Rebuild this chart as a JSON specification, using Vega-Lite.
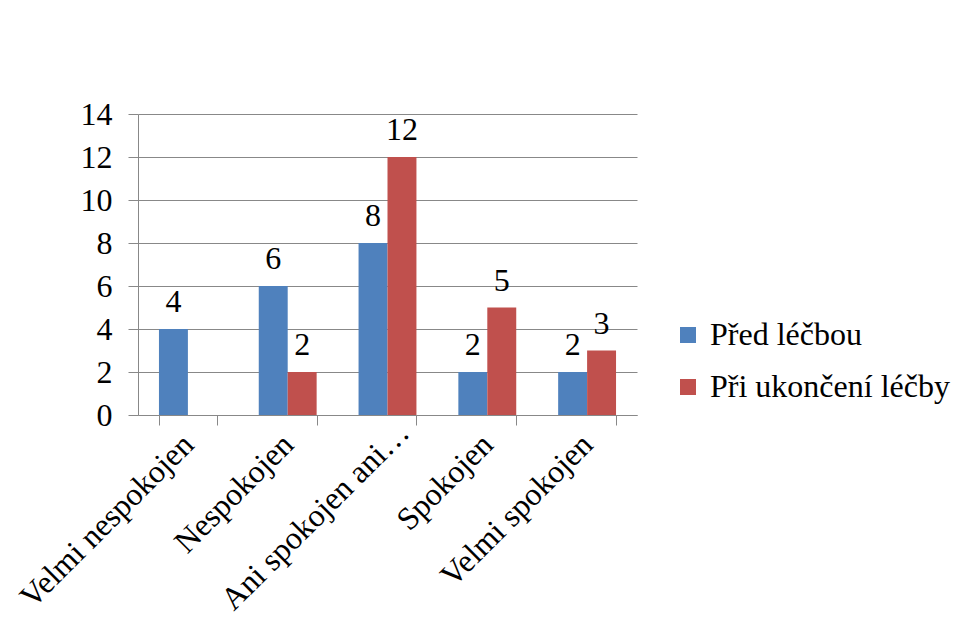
{
  "$schema": "https://vega.github.io/schema/vega-lite/v6.json",
  "width": 499,
  "height": 301,
  "autosize": "none",
  "padding": {"left": 138, "top": 114, "right": 320, "bottom": 222},
  "background": "white",
  "config": {
    "font": "'Times New Roman', 'Liberation Serif', 'DejaVu Serif', serif",
    "view": {"stroke": null},
    "axis": {"labelFont": "'Times New Roman', 'Liberation Serif', 'DejaVu Serif', serif", "labelColor": "black"},
    "legend": {"labelFont": "'Times New Roman', 'Liberation Serif', 'DejaVu Serif', serif", "labelColor": "black"}
  },
  "data": {
    "values": [
      {"cat": "Velmi nespokojen", "series": "Před léčbou", "value": 4},
      {"cat": "Nespokojen", "series": "Před léčbou", "value": 6},
      {"cat": "Nespokojen", "series": "Při ukončení léčby", "value": 2},
      {"cat": "Ani spokojen ani nespokojen", "series": "Před léčbou", "value": 8},
      {"cat": "Ani spokojen ani nespokojen", "series": "Při ukončení léčby", "value": 12},
      {"cat": "Spokojen", "series": "Před léčbou", "value": 2},
      {"cat": "Spokojen", "series": "Při ukončení léčby", "value": 5},
      {"cat": "Velmi spokojen", "series": "Před léčbou", "value": 2},
      {"cat": "Velmi spokojen", "series": "Při ukončení léčby", "value": 3}
    ]
  },
  "encoding": {
    "x": {
      "field": "cat",
      "type": "nominal",
      "sort": null,
      "title": null,
      "scale": {"paddingInner": 0.42, "paddingOuter": 0.21},
      "axis": {
        "labelAngle": -45,
        "labelAlign": "right",
        "labelBaseline": "middle",
        "labelFontSize": 32,
        "labelLimit": 400,
        "labelPadding": {"condition": {"test": "datum.value == 'Ani spokojen ani nespokojen'", "value": 2}, "value": 14},
        "labelOffset": {"condition": {"test": "datum.value == 'Ani spokojen ani nespokojen'", "value": 16}, "value": 0},
        "tickBand": "extent",
        "tickSize": 10,
        "tickColor": "#888888",
        "domainColor": "#888888",
        "labelExpr": "datum.label == 'Ani spokojen ani nespokojen' ? 'Ani spokojen ani…' : datum.label"
      }
    },
    "xOffset": {"field": "series", "type": "nominal", "sort": ["Před léčbou", "Při ukončení léčby"]},
    "y": {
      "field": "value",
      "type": "quantitative",
      "title": null,
      "scale": {"domain": [0, 14]},
      "axis": {
        "values": [0, 2, 4, 6, 8, 10, 12, 14],
        "labelFontSize": 32,
        "labelPadding": 16,
        "tickSize": 10,
        "tickColor": "#888888",
        "gridColor": "#888888",
        "domainColor": "#888888",
        "labelBaseline": "middle"
      }
    }
  },
  "layer": [
    {
      "mark": {"type": "bar"},
      "encoding": {
        "color": {
          "field": "series",
          "type": "nominal",
          "sort": ["Před léčbou", "Při ukončení léčby"],
          "scale": {"domain": ["Před léčbou", "Při ukončení léčby"], "range": ["#4F81BD", "#C0504D"]},
          "legend": {
            "title": null,
            "orient": "none",
            "legendX": 534,
            "legendY": 205,
            "symbolType": "square",
            "symbolSize": 256,
            "symbolStrokeWidth": 0,
            "labelFontSize": 32,
            "labelLimit": 400,
            "rowPadding": 20,
            "labelOffset": 6
          }
        }
      }
    },
    {
      "mark": {"type": "text", "baseline": "alphabetic", "dy": -17, "fontSize": 32, "color": "black"},
      "encoding": {
        "text": {"field": "value", "type": "quantitative"}
      }
    }
  ]
}
